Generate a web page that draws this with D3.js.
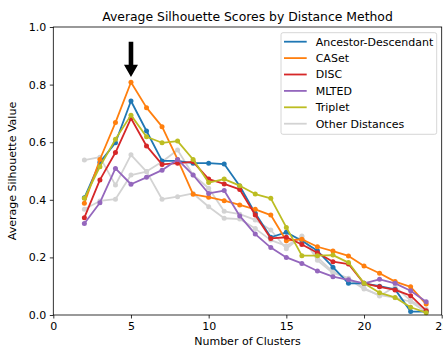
<!DOCTYPE html>
<html>
<head>
<meta charset="utf-8">
<script src="https://cdn.jsdelivr.net/npm/d3@7"></script>
<style>
  body { margin: 0; background: #fff; }
  svg text { font-family: "DejaVu Sans", sans-serif; }
</style>
</head>
<body>
<div id="chart"></div>
<script>
// number of clusters
var clusters = [2, 3, 4, 5, 6, 7, 8, 9, 10, 11, 12, 13, 14, 15, 16, 17, 18, 19, 20, 21, 22, 23, 24];

var ancestorDesc = [0.407, 0.53, 0.598, 0.743, 0.639, 0.535, 0.535, 0.527, 0.527, 0.524, 0.448, 0.353, 0.27, 0.287, 0.258, 0.223, 0.166, 0.11, 0.11, 0.10, 0.089, 0.012, 0.012];
var caset = [0.388, 0.54, 0.668, 0.808, 0.72, 0.654, 0.54, 0.419, 0.409, 0.397, 0.382, 0.367, 0.347, 0.258, 0.263, 0.237, 0.222, 0.205, 0.17, 0.145, 0.116, 0.098, 0.038];
var disc = [0.338, 0.469, 0.564, 0.683, 0.587, 0.523, 0.527, 0.532, 0.472, 0.455, 0.436, 0.347, 0.266, 0.27, 0.245, 0.216, 0.185, 0.177, 0.11, 0.098, 0.087, 0.067, 0.015];
var mlted = [0.318, 0.39, 0.509, 0.454, 0.478, 0.503, 0.54, 0.486, 0.422, 0.432, 0.344, 0.281, 0.234, 0.2, 0.179, 0.153, 0.133, 0.122, 0.11, 0.124, 0.11, 0.084, 0.046];
var triplet = [0.405, 0.515, 0.61, 0.694, 0.619, 0.598, 0.604, 0.54, 0.46, 0.472, 0.449, 0.42, 0.405, 0.304, 0.206, 0.206, 0.208, 0.182, 0.11, 0.077, 0.061, 0.027, 0.008];
var otherA = [0.538, 0.548, 0.451, 0.556, 0.498, 0.402, 0.411, 0.422, 0.376, 0.336, 0.333, 0.30, 0.26, 0.24, 0.272, 0.20, 0.15, 0.125, 0.09, 0.069, 0.06, 0.046, 0.01];
var otherB = [0.367, 0.396, 0.402, 0.486, 0.498, 0.532, 0.573, 0.486, 0.44, 0.36, 0.35, 0.33, 0.295, 0.23, 0.274, 0.19, 0.146, 0.128, 0.094, 0.066, 0.098, 0.05, 0.02];

var xTicks = [0, 5, 10, 15, 20, 25];
var yTicks = [0, 0.2, 0.4, 0.6, 0.8, 1.0];

var series = [
    { name: "Other Distances", values: otherA, color: "#d3d3d3" },
    { name: "Other Distances", values: otherB, color: "#d3d3d3" },
    { name: "Ancestor-Descendant", values: ancestorDesc, color: "#1f77b4" },
    { name: "CASet", values: caset, color: "#ff7f0e" },
    { name: "DISC", values: disc, color: "#d62728" },
    { name: "MLTED", values: mlted, color: "#9467bd" },
    { name: "Triplet", values: triplet, color: "#bcbd22" }
];
var legendItems = ["Ancestor-Descendant", "CASet", "DISC", "MLTED", "Triplet", "Other Distances"];
var legendColors = ["#1f77b4", "#ff7f0e", "#d62728", "#9467bd", "#bcbd22", "#d3d3d3"];

var W = 443, H = 349;
var margin = { top: 27, right: 1.3, bottom: 34, left: 53.3 };
var width = W - margin.left - margin.right,
    height = H - margin.top - margin.bottom;

var svg = d3.select("#chart").append("svg")
    .attr("width", W)
    .attr("height", H);

var g = svg.append("g")
    .attr("transform", "translate(" + margin.left + "," + margin.top + ")");

var x = d3.scaleLinear().domain([0, 25]).range([0, width]);
var y = d3.scaleLinear().domain([0, 1]).range([height, 0]);

// lines
var line = d3.line()
    .x(function (d, i) { return x(clusters[i]); })
    .y(function (d) { return y(d); });

series.forEach(function (s) {
    var sg = g.append("g");
    sg.append("path")
        .datum(s.values)
        .attr("fill", "none")
        .attr("stroke", s.color)
        .attr("stroke-width", 1.8)
        .attr("stroke-linejoin", "round")
        .attr("d", line);
    sg.selectAll("circle")
        .data(s.values)
        .enter()
        .append("circle")
        .attr("cx", function (d, i) { return x(clusters[i]); })
        .attr("cy", function (d) { return y(d); })
        .attr("r", 2.5)
        .attr("fill", s.color);
});

// axes
var xAxis = g.append("g")
    .attr("transform", "translate(0," + height + ")")
    .call(d3.axisBottom(x).tickValues(xTicks).tickSize(3.5).tickPadding(3.5).tickFormat(d3.format("d")));
var yAxis = g.append("g")
    .call(d3.axisLeft(y).tickValues(yTicks).tickSize(3.5).tickPadding(3.5).tickFormat(d3.format(".1f")));

[xAxis, yAxis].forEach(function (a) {
    a.select(".domain").remove();
    a.selectAll("line").attr("stroke", "#000").attr("stroke-width", 0.8);
    a.selectAll("text").attr("font-size", 11).attr("fill", "#000")
        .style("font-family", "DejaVu Sans, sans-serif");
});

// frame
g.append("rect")
    .attr("width", width)
    .attr("height", height)
    .attr("fill", "none")
    .attr("stroke", "#000")
    .attr("stroke-width", 0.8);

// arrow at k = 5
var ax = x(5);
var arrow = d3.path();
arrow.moveTo(ax - 2.3, y(0.949));
arrow.lineTo(ax + 2.3, y(0.949));
arrow.lineTo(ax + 2.3, y(0.869));
arrow.lineTo(ax + 7, y(0.869));
arrow.lineTo(ax, y(0.826));
arrow.lineTo(ax - 7, y(0.869));
arrow.lineTo(ax - 2.3, y(0.869));
arrow.closePath();
g.append("path").attr("d", arrow.toString()).attr("fill", "#000");

// title and labels
svg.append("text")
    .attr("x", margin.left + width / 2)
    .attr("y", 21)
    .attr("text-anchor", "middle")
    .attr("font-size", 12.4)
    .text("Average Silhouette Scores by Distance Method");

svg.append("text")
    .attr("x", margin.left + width / 2)
    .attr("y", 345)
    .attr("text-anchor", "middle")
    .attr("font-size", 11)
    .text("Number of Clusters");

svg.append("text")
    .attr("transform", "rotate(-90)")
    .attr("x", -(margin.top + height / 2))
    .attr("y", 16)
    .attr("text-anchor", "middle")
    .attr("font-size", 11)
    .text("Average Silhouette Value");

// legend
var legend = svg.append("g").attr("transform", "translate(281,32.7)");
legend.append("rect")
    .attr("width", 155.7)
    .attr("height", 101.6)
    .attr("rx", 2)
    .attr("fill", "#fff")
    .attr("fill-opacity", 0.8)
    .attr("stroke", "#ccc")
    .attr("stroke-width", 0.8);

legendItems.forEach(function (name, i) {
    var ly = 9 + i * 16.4;
    legend.append("line")
        .attr("x1", 3).attr("x2", 25.7)
        .attr("y1", ly).attr("y2", ly)
        .attr("stroke", legendColors[i])
        .attr("stroke-width", 1.8);
    legend.append("text")
        .attr("x", 34.7)
        .attr("y", ly + 4)
        .attr("font-size", 11)
        .text(name);
});
</script>
</body>
</html>
